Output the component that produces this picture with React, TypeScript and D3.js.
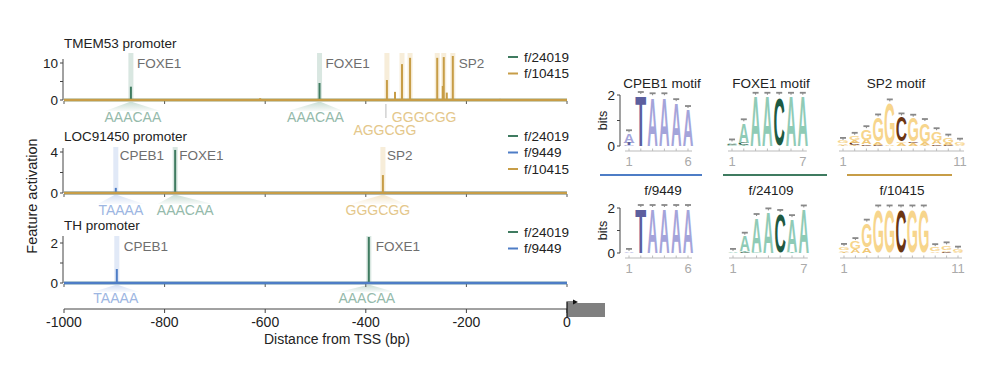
import React from 'react';
import * as d3 from 'd3';

const FONT = '"Liberation Sans", Arial, Helvetica, sans-serif';

// ---------------- data ----------------
const xTicks = [-1000, -800, -600, -400, -200, 0];
const xDomain: [number, number] = [-1000, 0];

const panelNames = ['TMEM53 promoter', 'LOC91450 promoter', 'TH promoter'];
const panelYMax = [10, 4, 2];

// panel 1: TMEM53
const p1Series = ['f/24019', 'f/10415'];
const p1_f24019: [number, number][] = [[-867, 3.6], [-492, 4.6]];
const p1_f10415: [number, number][] = [
  [-610, 0.5], [-358, 5.4], [-342, 2.2], [-328, 9.7], [-312, 11.4], [-258, 11.4],
  [-247, 3.8], [-245, 11.6], [-239, 2.0], [-227, 11.9], [-133, 0.3],
];
const p1Bands: [number, string][] = [
  [-867, 'f/24019'], [-492, 'f/24019'], [-358, 'f/10415'], [-328, 'f/10415'],
  [-312, 'f/10415'], [-258, 'f/10415'], [-245, 'f/10415'], [-227, 'f/10415'],
];
const p1Factors: [number, string][] = [[-867, 'FOXE1'], [-492, 'FOXE1'], [-227, 'SP2']];
// [text centre bp, sequence, series, fan-from bp (or null), text row]
const p1Motifs: [number, string, string, number | null, number][] = [
  [-863, 'AAACAA', 'f/24019', -867, 0],
  [-500, 'AAACAA', 'f/24019', -492, 0],
  [-284, 'GGGCGG', 'f/10415', null, 0],
  [-362, 'AGGCGG', 'f/10415', null, 1],
];
const p1Marks = [-360];

// panel 2: LOC91450
const p2Series = ['f/24019', 'f/9449', 'f/10415'];
const p2_f24019: [number, number][] = [[-779, 4.2]];
const p2_f9449: [number, number][] = [[-897, 0.5]];
const p2_f10415: [number, number][] = [[-366, 1.75]];
const p2Bands: [number, string][] = [[-897, 'f/9449'], [-779, 'f/24019'], [-366, 'f/10415']];
const p2Factors: [number, string][] = [[-897, 'CPEB1'], [-779, 'FOXE1'], [-366, 'SP2']];
const p2Motifs: [number, string, string, number | null, number][] = [
  [-887, 'TAAAA', 'f/9449', -897, 0],
  [-759, 'AAACAA', 'f/24019', -779, 0],
  [-376, 'GGGCGG', 'f/10415', -366, 0],
];

// panel 3: TH
const p3Series = ['f/24019', 'f/9449'];
const p3_f24019: [number, number][] = [[-394, 2.3]];
const p3_f9449: [number, number][] = [[-895, 0.7]];
const p3Bands: [number, string][] = [[-895, 'f/9449'], [-394, 'f/24019']];
const p3Factors: [number, string][] = [[-895, 'CPEB1'], [-394, 'FOXE1']];
const p3Motifs: [number, string, string, number | null, number][] = [
  [-897, 'TAAAA', 'f/9449', -895, 0],
  [-398, 'AAACAA', 'f/24019', -394, 0],
];

// sequence logos: each position = stack of [letter, bits], bottom to top
type Stack = [string, number][];
const cpeb1Motif: Stack[] = [
  [['G', 0.04], ['T', 0.08], ['A', 0.38]],
  [['T', 2.0]],
  [['A', 1.95]],
  [['A', 1.95]],
  [['A', 1.72]],
  [['A', 1.45]],
];
const foxe1Motif: Stack[] = [
  [['G', 0.03], ['C', 0.04], ['A', 0.07]],
  [['T', 0.05], ['C', 0.08], ['A', 0.8]],
  [['A', 1.97]],
  [['A', 1.97]],
  [['C', 1.97]],
  [['A', 1.97]],
  [['A', 1.97]],
];
const sp2Motif: Stack[] = [
  [['T', 0.04], ['A', 0.06], ['G', 0.1]],
  [['T', 0.04], ['C', 0.08], ['A', 0.1], ['G', 0.18]],
  [['C', 0.06], ['A', 0.18], ['G', 0.42]],
  [['C', 0.05], ['A', 0.12], ['G', 0.95]],
  [['A', 0.06], ['G', 1.65]],
  [['A', 0.1], ['G', 0.06], ['C', 1.0]],
  [['A', 0.1], ['C', 0.06], ['G', 0.95]],
  [['T', 0.04], ['A', 0.12], ['G', 0.78]],
  [['C', 0.06], ['A', 0.14], ['G', 0.38]],
  [['C', 0.05], ['A', 0.08], ['G', 0.2]],
  [['A', 0.05], ['G', 0.12]],
];
const f9449Logo: Stack[] = [
  [['A', 0.05]],
  [['T', 2.0]],
  [['A', 2.0]],
  [['A', 2.0]],
  [['A', 2.0]],
  [['A', 2.0]],
];
const f24109Logo: Stack[] = [
  [['A', 0.05]],
  [['C', 0.04], ['T', 0.05], ['A', 0.68]],
  [['G', 0.05], ['A', 1.55]],
  [['A', 1.85]],
  [['C', 1.78]],
  [['T', 0.05], ['A', 1.5]],
  [['A', 1.98]],
];
const f10415Logo: Stack[] = [
  [['T', 0.05], ['A', 0.08], ['G', 0.14]],
  [['A', 0.18], ['G', 0.35]],
  [['A', 0.25], ['G', 1.1]],
  [['G', 1.98]],
  [['G', 1.98]],
  [['C', 1.98]],
  [['G', 1.98]],
  [['G', 1.98]],
  [['A', 0.08], ['G', 0.18]],
  [['C', 0.06], ['A', 0.08], ['G', 0.2]],
  [['A', 0.05], ['G', 0.1]],
];
const logoTitlesTop = ['CPEB1 motif', 'FOXE1 motif', 'SP2 motif'];
const logoTitlesBottom = ['f/9449', 'f/24109', 'f/10415'];

// ---------------- styles ----------------
const seriesColor: Record<string, string> = {
  'f/24019': '#3f7b60',
  'f/9449': '#4e7dc6',
  'f/10415': '#c79d47',
};
const seriesPale: Record<string, string> = {
  'f/24019': '#b3d0c3',
  'f/9449': '#c3d3f0',
  'f/10415': '#f0dcb4',
};
const seqColor: Record<string, string> = {
  'f/24019': '#95baab',
  'f/9449': '#9db6e2',
  'f/10415': '#e4c78b',
};

const panelLayout = [
  { y0: 100, yTop: 63, axisTop: 59, bandTop: 53, titleY: 43, legendY: 57, labelY: 63, seqY: 117, labelDx: 6 },
  { y0: 193, yTop: 152, axisTop: 148, bandTop: 147, titleY: 136, legendY: 136, labelY: 155, seqY: 210, labelDx: 4 },
  { y0: 283, yTop: 243, axisTop: 236, bandTop: 236, titleY: 225, legendY: 232, labelY: 246, seqY: 298, labelDx: 7 },
];

const panels = [
  { series: p1Series, peaks: { 'f/24019': p1_f24019, 'f/10415': p1_f10415 } as Record<string, [number, number][]>, bands: p1Bands, factors: p1Factors, motifs: p1Motifs, marks: p1Marks },
  { series: p2Series, peaks: { 'f/24019': p2_f24019, 'f/9449': p2_f9449, 'f/10415': p2_f10415 } as Record<string, [number, number][]>, bands: p2Bands, factors: p2Factors, motifs: p2Motifs, marks: [] as number[] },
  { series: p3Series, peaks: { 'f/24019': p3_f24019, 'f/9449': p3_f9449 } as Record<string, [number, number][]>, bands: p3Bands, factors: p3Factors, motifs: p3Motifs, marks: [] as number[] },
];

const x = d3.scaleLinear().domain(xDomain).range([64, 567]);

function Panel({ i }: { i: number }) {
  const L = panelLayout[i];
  const P = panels[i];
  const y = d3.scaleLinear().domain([0, panelYMax[i]]).range([L.y0, L.yTop]);
  const yTicks = [0, panelYMax[i] / 2, panelYMax[i]];
  const baseline = d3.line<number>().x((d) => x(d)).y(() => y(0));
  return (
    <g>
      <text x={64} y={L.titleY + 5} fontSize={13.5} fill="#222">{panelNames[i]}</text>
      {/* highlight bands */}
      {P.bands.map(([bp, s], k) => (
        <rect key={'b' + k} x={x(bp) - 2.5} y={L.bandTop} width={5} height={L.y0 - L.bandTop}
          fill={seriesPale[s]} opacity={0.5} />
      ))}
      {/* fans */}
      {P.motifs.filter((m) => m[3] !== null).map(([c, seq, s, from], k) => {
        const w = seq.length * 9.2;
        const xc = x(c);
        const xf = x(from as number);
        const top = L.y0 + 2;
        const bot = L.seqY - 6;
        return (
          <polygon key={'f' + k}
            points={`${xf - 1.5},${top} ${xf + 1.5},${top} ${xc + w / 2},${bot} ${xc - w / 2},${bot}`}
            fill={`url(#fan-${s.replace('/', '')})`} />
        );
      })}
      {/* y axis */}
      <line x1={63} x2={63} y1={L.axisTop} y2={L.y0} stroke="#444" strokeWidth={1} />
      {yTicks.map((t) => (
        <line key={'yt' + t} x1={60} x2={63} y1={y(t)} y2={y(t)} stroke="#444" strokeWidth={1} />
      ))}
      {[0, panelYMax[i]].map((t) => (
        <text key={'yl' + t} x={58} y={y(t) + 4.5} fontSize={13.5} textAnchor="end" fill="#222">{t}</text>
      ))}
      {/* baseline ticks */}
      {xTicks.map((t) => (
        <line key={'xt' + t} x1={x(t)} x2={x(t)} y1={L.y0 + 1} y2={L.y0 + 4} stroke="#555" strokeWidth={1} />
      ))}
      {/* series */}
      {P.series.map((s) => (
        <g key={s}>
          <path d={baseline(xDomain) || ''} stroke={seriesColor[s]} strokeWidth={2.6} fill="none" />
          {P.peaks[s].map(([bp, v], k) => (
            <line key={k} x1={x(bp)} x2={x(bp)} y1={y(0)} y2={y(v)} stroke={seriesColor[s]} strokeWidth={2} />
          ))}
        </g>
      ))}
      {/* factor labels */}
      {P.factors.map(([bp, name], k) => (
        <text key={'fl' + k} x={x(bp) + L.labelDx} y={L.labelY + 5} fontSize={13.5} fill="#6e6e6e">{name}</text>
      ))}
      {/* motif sequences */}
      {P.motifs.map(([c, seq, s, , row], k) => (
        <text key={'m' + k} x={x(c)} y={L.seqY + 5 + row * 13} fontSize={14} textAnchor="middle" fill={seqColor[s]}>{seq}</text>
      ))}
      {P.marks.map((bp, k) => (
        <line key={'mk' + k} x1={x(bp)} x2={x(bp)} y1={L.y0 + 4} y2={L.y0 + 18} stroke="#bbb" strokeWidth={1} />
      ))}
      {/* legend */}
      {P.series.map((s, k) => (
        <g key={'lg' + s} transform={`translate(508,${L.legendY + k * 16.5})`}>
          <line x1={0} x2={10} y1={0} y2={0} stroke={seriesColor[s]} strokeWidth={2} />
          <text x={16} y={4.5} fontSize={13.5} fill="#222">{s}</text>
        </g>
      ))}
    </g>
  );
}

// glyph metrics (bold sans, font-size 100)
const GLYPH: Record<string, { w: number; h: number; b: number }> = {
  A: { w: 71, h: 71.6, b: 0 },
  T: { w: 58, h: 71.6, b: 0 },
  C: { w: 66, h: 74.5, b: 1.5 },
  G: { w: 70, h: 74.5, b: 1.5 },
};

function Logo({ stacks, x1, step, yBase, ppb, colors, axis }: {
  stacks: Stack[]; x1: number; step: number; yBase: number; ppb: number;
  colors: Record<string, string>; axis: boolean;
}) {
  const n = stacks.length;
  const xp = d3.scaleLinear().domain([1, n]).range([x1, x1 + (n - 1) * step]);
  const yb = d3.scaleLinear().domain([0, 2]).range([yBase, yBase - 2 * ppb]);
  const lw = step * 0.88;
  return (
    <g>
      {stacks.map((st, p) => {
        let acc = 0;
        const cx = xp(p + 1);
        const items = st.map(([ch, v], k) => {
          const bottom = yb(acc);
          acc += v;
          const top = yb(acc);
          const h = bottom - top;
          const g = GLYPH[ch];
          const sx = lw / g.w;
          const sy = h / g.h;
          return (
            <text key={k} x={0} y={0} fontSize={100} fontWeight="bold" textAnchor="middle"
              fill={colors[ch]}
              transform={`translate(${cx},${bottom - g.b * sy}) scale(${sx},${sy})`}>{ch}</text>
          );
        });
        const topY = yb(acc);
        return (
          <g key={p}>
            {items}
            <line x1={cx} x2={cx} y1={topY - 1} y2={topY - 3} stroke="#888" strokeWidth={1} />
            <line x1={cx - 3} x2={cx + 3} y1={topY - 3} y2={topY - 3} stroke="#888" strokeWidth={1.8} />
          </g>
        );
      })}
      {/* position axis */}
      <line x1={xp(1) - 4} x2={xp(n) + 4} y1={yBase + 5} y2={yBase + 5} stroke="#bbb" strokeWidth={1} />
      {d3.range(1, n + 1).map((p) => (
        <line key={'pt' + p} x1={xp(p)} x2={xp(p)} y1={yBase + 5} y2={yBase + 2.5} stroke="#bbb" strokeWidth={1} />
      ))}
      <text x={xp(1)} y={yBase + 20} fontSize={13} textAnchor="middle" fill="#aaa">1</text>
      <text x={xp(n)} y={yBase + 20} fontSize={13} textAnchor="middle" fill="#aaa">{n}</text>
      {axis && (
        <g>
          <line x1={620} x2={620} y1={yb(0)} y2={yb(2)} stroke="#444" strokeWidth={1} />
          {[0, 1, 2].map((t) => (
            <line key={'bt' + t} x1={617} x2={620} y1={yb(t)} y2={yb(t)} stroke="#444" strokeWidth={1} />
          ))}
          {[0, 2].map((t) => (
            <text key={'bl' + t} x={615} y={yb(t) + 4.5} fontSize={13.5} textAnchor="end" fill="#222">{t}</text>
          ))}
          <text transform={`translate(607,${yb(1)}) rotate(-90)`} fontSize={12.5} textAnchor="middle" fill="#222">bits</text>
        </g>
      )}
    </g>
  );
}

const cpebColors = { A: '#a4a4da', C: '#a4a4da', G: '#a4a4da', T: '#5c5f9e' };
const foxColors = { A: '#8fcbb6', C: '#1e5a42', G: '#8fcbb6', T: '#8fcbb6' };
const sp2Colors = { A: '#f1c877', C: '#6c3612', G: '#f7d58c', T: '#eac680' };

export default function App() {
  const fanIds = Object.keys(seriesPale);
  return (
    <svg width={1000} height={380} style={{ display: 'block', margin: -8, fontFamily: FONT, background: '#fff' }}>
      <defs>
        {fanIds.map((s) => (
          <linearGradient key={s} id={`fan-${s.replace('/', '')}`} x1="0" x2="0" y1="0" y2="1">
            <stop offset="0" stopColor={seriesPale[s]} stopOpacity={0.7} />
            <stop offset="1" stopColor={seriesPale[s]} stopOpacity={0.1} />
          </linearGradient>
        ))}
      </defs>
      <rect width={1000} height={380} fill="#fff" />
      <text transform="translate(37,196) rotate(-90)" fontSize={14.5} textAnchor="middle" fill="#222">Feature activation</text>
      {[0, 1, 2].map((i) => <Panel key={i} i={i} />)}
      {/* bottom x axis */}
      <line x1={64} x2={567} y1={309} y2={309} stroke="#444" strokeWidth={1} />
      {xTicks.map((t) => (
        <g key={t}>
          <line x1={x(t)} x2={x(t)} y1={309} y2={313} stroke="#444" strokeWidth={1} />
          <text x={x(t)} y={327} fontSize={14} textAnchor="middle" fill="#222">{t}</text>
        </g>
      ))}
      <text x={337} y={344} fontSize={14} textAnchor="middle" fill="#222">Distance from TSS (bp)</text>
      {/* TSS */}
      <rect x={x(0)} y={303} width={38} height={14} fill="#808080" />
      <path d={`M${x(0)},317 V302 H574`} stroke="#111" strokeWidth={1.2} fill="none" />
      <path d="M573,299.5 L578,302 L573,304.5 Z" fill="#111" />

      {/* logos */}
      {logoTitlesTop.map((t, k) => (
        <text key={t} x={[662, 771, 896][k]} y={88} fontSize={13.5} textAnchor="middle" fill="#222">{t}</text>
      ))}
      <Logo stacks={cpeb1Motif} x1={629} step={11.8} yBase={146} ppb={25.5} colors={cpebColors} axis />
      <Logo stacks={foxe1Motif} x1={732} step={11.8} yBase={146} ppb={25.5} colors={foxColors} axis={false} />
      <Logo stacks={sp2Motif} x1={843} step={11.7} yBase={146} ppb={25.5} colors={sp2Colors} axis={false} />

      <line x1={600} x2={702} y1={175} y2={175} stroke={seriesColor['f/9449']} strokeWidth={2} />
      <line x1={723} x2={827} y1={175} y2={175} stroke={seriesColor['f/24019']} strokeWidth={2} />
      <line x1={847} x2={952} y1={175} y2={175} stroke={seriesColor['f/10415']} strokeWidth={2} />

      {logoTitlesBottom.map((t, k) => (
        <text key={t} x={[663, 771, 902][k]} y={195} fontSize={13.5} textAnchor="middle" fill="#222">{t}</text>
      ))}
      <Logo stacks={f9449Logo} x1={629} step={11.8} yBase={253} ppb={22.5} colors={cpebColors} axis />
      <Logo stacks={f24109Logo} x1={733} step={11.8} yBase={253} ppb={22.5} colors={foxColors} axis={false} />
      <Logo stacks={f10415Logo} x1={844} step={11.4} yBase={253} ppb={22.5} colors={sp2Colors} axis={false} />
    </svg>
  );
}
